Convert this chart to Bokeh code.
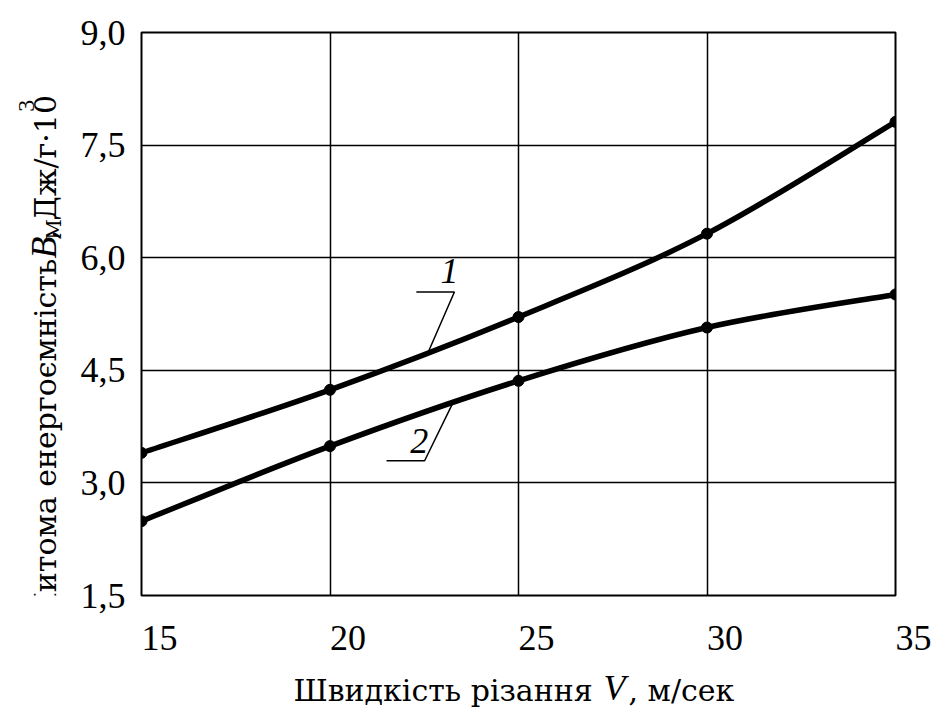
import numpy as np
from bokeh.plotting import figure
from bokeh.layouts import row, column
from bokeh.models import FixedTicker, Range1d, ColumnDataSource
from bokeh.core.properties import value
from bokeh.embed import file_html
from bokeh.resources import INLINE

# ---- data ----
speed = [15, 20, 25, 30, 35]
energy_1 = [3.40, 4.24, 5.21, 6.32, 7.81]
energy_2 = [2.49, 3.49, 4.36, 5.07, 5.51]
x_ticks = [15, 20, 25, 30, 35]
x_tick_labels = ["15", "20", "25", "30", "35"]
y_ticks = [1.5, 3.0, 4.5, 6.0, 7.5, 9.0]
y_tick_labels = ["1,5", "3,0", "4,5", "6,0", "7,5", "9,0"]
curve_labels = ["1", "2"]
x_title = ["Швидкість різання", "V", ", м/сек"]
y_title = ["Питома енергоємність", "B", "М", ", Дж/г·10", "3"]

FONT = "Liberation Serif"       # Latin letters and digits
CYR = "DejaVu Serif"            # Cyrillic text
W, H = 931, 708
LW = 75          # width of the left strip holding the y title
BH = 48          # height of the bottom strip holding the x title
MW, MH = W - LW, H - BH
FL, FR, FT, FB = 141, 895, 32, 596  # frame edges in page pixels
MID = 0.34       # text anchor offset (em) from baseline to the glyph middle

p = figure(width=MW, height=MH, output_backend="svg", toolbar_location=None,
           x_range=Range1d(15, 35), y_range=Range1d(1.5, 9.0),
           min_border_left=FL - LW, min_border_right=W - FR,
           min_border_top=FT, min_border_bottom=MH - FB)
p.background_fill_color = "white"
p.border_fill_color = "white"
p.outline_line_color = "black"
p.outline_line_width = 2

for ax in (p.xaxis[0], p.yaxis[0]):
    ax.axis_line_color = None
    ax.major_tick_line_color = None
    ax.minor_tick_line_color = None
    ax.major_label_text_font = FONT
    ax.major_label_text_font_size = "36px"
    ax.major_label_text_color = "black"

NB = "\u00a0"
p.xaxis.ticker = FixedTicker(ticks=x_ticks)
# pad on the left so each label starts at its tick (labels are centred by Bokeh)
p.xaxis.major_label_overrides = {t: NB * 4 + s for t, s in zip(x_ticks, x_tick_labels)}
p.xaxis.major_label_standoff = 16
p.yaxis.ticker = FixedTicker(ticks=y_ticks)
p.yaxis.major_label_overrides = dict(zip(y_ticks, y_tick_labels))
p.yaxis.major_label_standoff = 10

p.xgrid.ticker = FixedTicker(ticks=x_ticks[1:-1])
p.ygrid.ticker = FixedTicker(ticks=y_ticks[1:-1])
for g in (p.xgrid[0], p.ygrid[0]):
    g.grid_line_color = "black"
    g.grid_line_width = 1.5
    g.grid_line_alpha = 1.0


def smooth_segments(xs, ys):
    """Catmull-Rom -> cubic Bezier segments through the data points."""
    xs = np.asarray(xs, float)
    ys = np.asarray(ys, float)
    n = len(xs)
    cols = {k: [] for k in ("x0", "y0", "x1", "y1", "cx0", "cy0", "cx1", "cy1")}
    for i in range(n - 1):
        im = max(i - 1, 0)
        ip = min(i + 2, n - 1)
        cols["x0"].append(xs[i]); cols["y0"].append(ys[i])
        cols["x1"].append(xs[i + 1]); cols["y1"].append(ys[i + 1])
        cols["cx0"].append(xs[i] + (xs[i + 1] - xs[im]) / 6)
        cols["cy0"].append(ys[i] + (ys[i + 1] - ys[im]) / 6)
        cols["cx1"].append(xs[i + 1] - (xs[ip] - xs[i]) / 6)
        cols["cy1"].append(ys[i + 1] - (ys[ip] - ys[i]) / 6)
    return ColumnDataSource(cols)


for series in (energy_1, energy_2):
    src = smooth_segments(speed, series)
    p.bezier(x0="x0", y0="y0", x1="x1", y1="y1", cx0="cx0", cy0="cy0",
             cx1="cx1", cy1="cy1", source=src, line_color="black",
             line_width=5.5, line_cap="round")
    p.scatter(speed, series, size=11, color="black")

# ---- curve number labels with leader lines (annotation positions) ----
lead1_x = [22.29, 23.30, 22.61]
lead1_y = [5.543, 5.543, float(np.interp(22.61, speed, energy_1))]
lead2_x = [21.50, 22.51, 23.25]
lead2_y = [3.295, 3.295, float(np.interp(23.25, speed, energy_2))]
p.line(lead1_x, lead1_y, line_color="black", line_width=1.5)
p.line(lead2_x, lead2_y, line_color="black", line_width=1.5)
p.text(x=[23.17, 22.37], y=[5.82, 3.56], text=curve_labels,
       text_font=value(FONT), text_font_style="italic", text_font_size="36px",
       text_align="center", text_baseline="alphabetic", text_color="black")


def strip(width, height):
    f = figure(width=width, height=height, output_backend="svg",
               toolbar_location=None, x_axis_location=None,
               y_axis_location=None, min_border=0,
               x_range=Range1d(0, width), y_range=Range1d(0, height))
    f.outline_line_color = None
    f.grid.visible = False
    f.background_fill_color = "white"
    f.border_fill_color = "white"
    return f


def piece(f, x, y, text, size, style, font, angle=0.0, align="left",
          baseline="alphabetic"):
    f.text(x=[x], y=[y], text=[text], angle=angle,
           text_font=value(font), text_font_size=f"{size}px",
           text_font_style=style, text_align=align,
           text_baseline=baseline, text_color="black")


# ---- y title strip: each piece placed by its centre (page px) ----
ly = strip(LW, MH)
ly_cx = [45, 43, 53, 45, 26]            # centre x of each piece (page px)
ly_cy = [476, 252, 231, 158, 86]        # centre y of each piece (page px)
ly_size = [30, 36, 20, 30, 24]
ly_style = ["normal", "italic", "normal", "normal", "normal"]
ly_font = [CYR, FONT, CYR, CYR, FONT]
for t, cx, cy, s, st, fn in zip(y_title, ly_cx, ly_cy, ly_size, ly_style, ly_font):
    piece(ly, cx, MH - cy, t, s, st, fn, angle=np.pi / 2,
          align="center", baseline="middle")

# ---- x title strip (page px -> strip coords: x = px, y = H - py) ----
lx = strip(W, BH)
lx_px = [293, 603, 628]
lx_size = [30, 36, 30]
lx_style = ["normal", "italic", "normal"]
lx_font = [CYR, FONT, CYR]
for t, px, s, st, fn in zip(x_title, lx_px, lx_size, lx_style, lx_font):
    piece(lx, px, H - (700 - MID * s), t, s, st, fn)

layout = column(row(ly, p), lx)
open("out.html", "w").write(file_html(layout, INLINE))
